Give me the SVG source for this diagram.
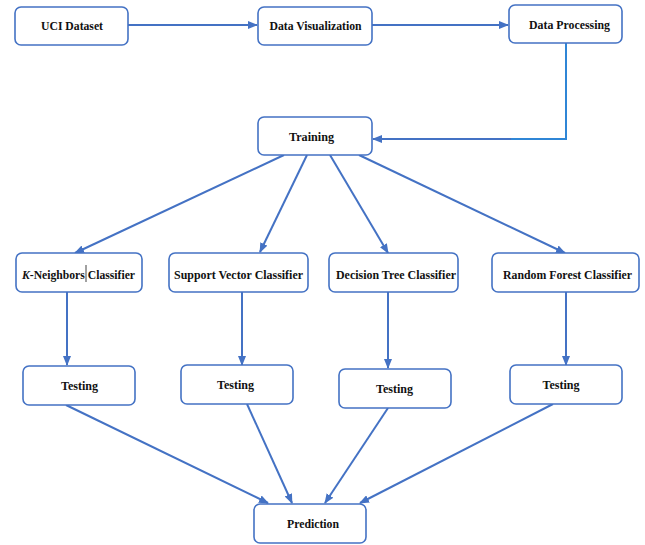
<svg xmlns="http://www.w3.org/2000/svg" width="645" height="545" viewBox="0 0 645 545">
<style>
.box{fill:#fff;stroke:#4472C4;stroke-width:1.6}
.lbl{font-family:"Liberation Serif","Times New Roman",serif;font-weight:bold;font-size:13px;fill:#111;text-anchor:middle}
.ln{fill:none;stroke:#4472C4;stroke-width:2}
</style>
<defs>
<marker id="ah" markerUnits="userSpaceOnUse" markerWidth="10" markerHeight="8" refX="9" refY="4" orient="auto">
<path d="M0,0 L10,4 L0,8 Z" fill="#4472C4"/>
</marker>
</defs>
<rect width="645" height="545" fill="#fff"/>
<g id="connectors">
<line class="ln" x1="128" y1="25" x2="257" y2="25" marker-end="url(#ah)"/>
<line class="ln" x1="372" y1="25" x2="508" y2="25" marker-end="url(#ah)"/>
<path d="M566 43 V139 H510" fill="none" stroke="#2F86D6" stroke-width="2"/>
<line class="ln" x1="511" y1="139" x2="373" y2="139" marker-end="url(#ah)"/>
<line class="ln" x1="284" y1="155" x2="75" y2="253" marker-end="url(#ah)"/>
<line class="ln" x1="307" y1="155" x2="260" y2="252" marker-end="url(#ah)"/>
<line class="ln" x1="330" y1="155" x2="388" y2="253" marker-end="url(#ah)"/>
<line class="ln" x1="359" y1="155" x2="565" y2="253" marker-end="url(#ah)"/>
<line class="ln" x1="67" y1="292" x2="67" y2="365" marker-end="url(#ah)"/>
<line class="ln" x1="242" y1="292" x2="242" y2="365" marker-end="url(#ah)"/>
<line class="ln" x1="388" y1="292" x2="388" y2="368" marker-end="url(#ah)"/>
<line class="ln" x1="566" y1="292" x2="566" y2="365" marker-end="url(#ah)"/>
<line class="ln" x1="66" y1="405" x2="268" y2="503" marker-end="url(#ah)"/>
<line class="ln" x1="247" y1="404" x2="292" y2="503" marker-end="url(#ah)"/>
<line class="ln" x1="388" y1="408" x2="325" y2="503" marker-end="url(#ah)"/>
<line class="ln" x1="553" y1="404" x2="360" y2="503" marker-end="url(#ah)"/>
</g>
<g id="uci"><rect class="box" x="15" y="7" width="113" height="38" rx="6"/><text class="lbl" x="72" y="30" textLength="62" lengthAdjust="spacingAndGlyphs">UCI Dataset</text></g>
<g id="datavis"><rect class="box" x="258" y="7" width="114" height="38" rx="6"/><text class="lbl" x="315.5" y="30" textLength="92" lengthAdjust="spacingAndGlyphs">Data Visualization</text></g>
<g id="dataproc"><rect class="box" x="509" y="5" width="113" height="38" rx="6"/><text class="lbl" x="569.5" y="29" textLength="81" lengthAdjust="spacingAndGlyphs">Data Processing</text></g>
<g id="training"><rect class="box" x="258" y="117" width="114" height="38" rx="6"/><text class="lbl" x="311.5" y="141" textLength="45" lengthAdjust="spacingAndGlyphs">Training</text></g>
<g id="knn"><rect class="box" x="16" y="253" width="126" height="39" rx="6"/><text class="lbl" x="78.5" y="279" textLength="113" lengthAdjust="spacingAndGlyphs"><tspan font-style="italic">K</tspan>-Neighbors Classifier</text><line x1="86" y1="265" x2="86" y2="282" stroke="#111" stroke-width="0.8"/></g>
<g id="svc"><rect class="box" x="169" y="253" width="139" height="39" rx="6"/><text class="lbl" x="238.5" y="279" textLength="129" lengthAdjust="spacingAndGlyphs">Support Vector Classifier</text></g>
<g id="dt"><rect class="box" x="329" y="253" width="129" height="39" rx="6"/><text class="lbl" x="396" y="279" textLength="120" lengthAdjust="spacingAndGlyphs">Decision Tree Classifier</text></g>
<g id="rf"><rect class="box" x="492" y="253" width="147" height="39" rx="6"/><text class="lbl" x="567.5" y="279" textLength="129" lengthAdjust="spacingAndGlyphs">Random Forest Classifier</text></g>
<g id="test1"><rect class="box" x="23" y="366" width="112" height="39" rx="6"/><text class="lbl" x="79.5" y="390" textLength="37" lengthAdjust="spacingAndGlyphs">Testing</text></g>
<g id="test2"><rect class="box" x="181" y="365" width="112" height="39" rx="6"/><text class="lbl" x="235.5" y="389" textLength="37" lengthAdjust="spacingAndGlyphs">Testing</text></g>
<g id="test3"><rect class="box" x="339" y="369" width="112" height="39" rx="6"/><text class="lbl" x="394.5" y="393" textLength="37" lengthAdjust="spacingAndGlyphs">Testing</text></g>
<g id="test4"><rect class="box" x="510" y="365" width="112" height="39" rx="6"/><text class="lbl" x="561" y="389" textLength="37" lengthAdjust="spacingAndGlyphs">Testing</text></g>
<g id="prediction"><rect class="box" x="254" y="504" width="112" height="39" rx="6"/><text class="lbl" x="313" y="528" textLength="52" lengthAdjust="spacingAndGlyphs">Prediction</text></g>
</svg>
